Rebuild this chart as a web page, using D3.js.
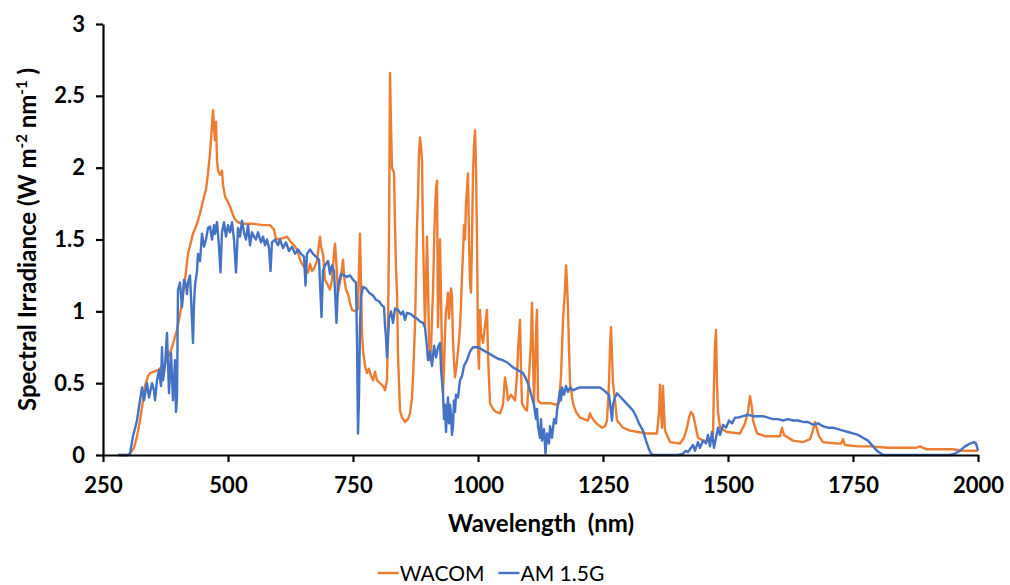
<!DOCTYPE html>
<html>
<head>
<meta charset="utf-8">
<script src="https://cdn.jsdelivr.net/npm/d3@7"></script>
<style>
  html, body { margin: 0; padding: 0; background: #fff; }
  svg { display: block; }
  text { font-family: Lato, "Open Sans", sans-serif; fill: #000; }
</style>
</head>
<body>
<svg id="chart" width="1010" height="585"></svg>
<script>
// ---------------- data ----------------
const xTicks = [250, 500, 750, 1000, 1250, 1500, 1750, 2000];
const yTicks = [0, 0.5, 1, 1.5, 2, 2.5, 3];
const seriesNames = ["WACOM", "AM 1.5G"];
const seriesColors = ["#ED7D31", "#4472C4"];

// WACOM simulator spectrum (wavelength nm, W m-2 nm-1)
const wacomWl = [280,300,304,312,318,324,328,334,340,344,352,360,370,378,388,398,404,408,414,420,430,438,444,450,456,460,464,468,470,472,474,476,478,480,484,488,490,494,500,504,510,514,520,530,550,570,584,592,596,610,618,624,632,638,644,648,654,660,664,668,672,678,682,684,686,690,694,700,704,708,712,714,716,720,724,728,730,732,736,740,744,748,756,760,762,764,766,768,770,774,778,782,786,790,794,798,804,810,814,818,820,822,824,826,828,830,832,834,836,838,840,844,848,854,860,864,868,870,874,878,880,882,884,886,888,890,892,894,896,898,900,902,904,906,908,910,912,914,916,918,920,922,924,926,928,930,932,934,936,938,940,942,944,946,948,950,952,954,958,962,964,966,968,970,972,974,976,978,980,982,984,986,988,990,992,994,996,998,1000,1002,1004,1006,1010,1014,1018,1020,1024,1030,1036,1044,1050,1054,1058,1060,1066,1070,1074,1078,1080,1084,1086,1088,1094,1098,1102,1106,1108,1110,1112,1114,1116,1118,1120,1126,1136,1146,1156,1162,1166,1170,1174,1176,1178,1180,1182,1184,1190,1196,1204,1212,1220,1224,1228,1234,1240,1248,1254,1258,1262,1264,1266,1268,1270,1274,1278,1290,1304,1320,1338,1358,1362,1364,1366,1368,1370,1372,1374,1384,1404,1412,1418,1422,1426,1430,1434,1440,1450,1458,1466,1470,1472,1474,1476,1478,1480,1484,1498,1524,1534,1540,1544,1548,1550,1558,1575,1590,1604,1608,1612,1630,1650,1664,1668,1672,1674,1678,1682,1690,1718,1726,1730,1734,1760,1784,1820,1850,1876,1884,1890,1898,1950,1970,2000];
const wacomVal = [0,0,0.01,0.05,0.13,0.24,0.33,0.48,0.55,0.57,0.58,0.59,0.62,0.66,0.75,0.87,0.98,1.06,1.22,1.40,1.54,1.61,1.68,1.77,1.85,1.96,2.10,2.30,2.40,2.28,2.19,2.32,2.05,1.98,1.95,1.98,1.88,1.80,1.76,1.73,1.67,1.64,1.62,1.61,1.61,1.60,1.60,1.57,1.50,1.51,1.52,1.49,1.46,1.43,1.36,1.33,1.30,1.27,1.33,1.28,1.30,1.35,1.47,1.52,1.45,1.40,1.22,1.18,1.15,1.22,1.40,1.47,1.38,1.13,1.20,1.30,1.36,1.25,1.15,1.12,1.06,1.01,1.00,1.02,1.30,1.54,1.20,0.85,0.73,0.62,0.57,0.60,0.55,0.52,0.58,0.52,0.50,0.48,0.45,0.52,0.90,1.50,2.66,2.30,2.00,1.98,1.97,1.60,1.30,1.13,0.70,0.31,0.26,0.23,0.25,0.29,0.40,0.54,0.90,1.59,1.80,2.10,2.21,2.15,2.05,1.54,1.20,0.89,1.20,1.52,1.20,0.80,0.66,0.75,0.95,1.13,1.45,1.70,1.85,1.91,0.89,1.20,1.50,1.10,0.70,0.43,0.60,0.85,1.00,1.05,1.13,0.95,1.05,1.16,1.10,0.80,0.65,0.54,0.65,0.80,0.89,1.05,1.25,1.40,1.60,1.50,1.75,1.85,1.96,1.50,1.20,1.13,1.50,1.97,2.15,2.26,2.00,1.50,0.75,0.60,1.01,0.85,0.78,0.90,1.01,0.70,0.36,0.32,0.30,0.29,0.35,0.54,0.45,0.38,0.42,0.40,0.38,0.55,0.73,0.94,0.60,0.36,0.32,0.31,0.55,0.80,1.06,0.70,0.36,0.60,0.85,1.01,0.38,0.36,0.36,0.36,0.35,0.36,0.55,0.94,1.15,1.32,1.20,1.01,0.75,0.50,0.36,0.30,0.26,0.25,0.24,0.29,0.26,0.23,0.21,0.19,0.20,0.24,0.50,0.75,0.89,0.70,0.50,0.38,0.24,0.19,0.17,0.16,0.15,0.15,0.30,0.49,0.30,0.19,0.48,0.30,0.17,0.09,0.08,0.12,0.19,0.26,0.30,0.28,0.22,0.12,0.10,0.10,0.11,0.13,0.50,0.75,0.87,0.50,0.30,0.19,0.16,0.15,0.22,0.30,0.41,0.33,0.24,0.15,0.13,0.13,0.13,0.19,0.14,0.10,0.09,0.11,0.15,0.20,0.23,0.18,0.13,0.09,0.08,0.08,0.11,0.07,0.06,0.06,0.05,0.05,0.05,0.06,0.05,0.04,0.04,0.03,0.03];

// AM 1.5G reference spectrum (wavelength nm, W m-2 nm-1)
const amWl = [280,300,304,310,318,324,328,332,338,342,348,352,354,358,362,366,368,370,374,378,382,386,390,394,396,398,400,404,408,412,416,418,420,424,426,430,432,434,438,440,444,448,452,456,460,464,468,472,474,478,482,485,488,492,496,500,504,508,512,516,520,524,528,532,536,540,544,548,552,556,560,566,570,574,578,582,585,588,594,600,604,610,616,622,628,634,640,646,652,655,658,664,670,676,682,687,690,694,700,704,708,712,717,720,726,732,738,744,750,756,758,760,762,764,766,770,776,782,790,796,802,808,812,814,816,818,820,822,826,830,834,840,846,850,854,858,866,872,878,884,890,894,898,900,904,908,912,916,920,924,926,930,932,934,936,938,940,942,944,946,948,950,952,954,956,960,964,968,972,978,984,990,1000,1010,1020,1030,1040,1050,1060,1070,1080,1090,1096,1100,1104,1108,1112,1116,1118,1120,1124,1126,1128,1132,1135,1138,1142,1144,1148,1152,1156,1158,1162,1164,1166,1168,1172,1176,1180,1184,1190,1196,1204,1214,1224,1234,1244,1252,1258,1262,1266,1268,1270,1274,1278,1286,1294,1302,1310,1316,1322,1330,1336,1342,1346,1350,1400,1410,1416,1420,1424,1430,1434,1440,1444,1450,1456,1460,1464,1468,1472,1476,1480,1484,1490,1496,1502,1508,1514,1520,1530,1540,1550,1560,1570,1580,1590,1600,1610,1620,1630,1640,1650,1660,1670,1680,1690,1700,1710,1720,1730,1740,1750,1760,1770,1780,1790,1798,1806,1812,1944,1954,1964,1974,1984,1992,1996,2000];
const amVal = [0,0,0.01,0.13,0.24,0.38,0.47,0.38,0.50,0.40,0.50,0.45,0.38,0.52,0.59,0.48,0.75,0.52,0.62,0.85,0.43,0.71,0.38,0.66,0.30,0.40,1.15,1.20,1.03,1.22,1.18,1.12,1.20,1.25,1.10,0.78,1.05,1.18,1.28,1.40,1.35,1.54,1.45,1.50,1.58,1.59,1.50,1.60,1.54,1.62,1.45,1.27,1.55,1.62,1.52,1.60,1.55,1.62,1.50,1.27,1.58,1.52,1.63,1.55,1.50,1.60,1.46,1.55,1.52,1.50,1.55,1.48,1.52,1.46,1.50,1.44,1.28,1.48,1.50,1.46,1.50,1.44,1.48,1.42,1.45,1.40,1.43,1.40,1.38,1.18,1.40,1.43,1.40,1.38,1.36,0.96,1.28,1.32,1.35,1.26,1.32,1.28,0.92,1.18,1.26,1.25,1.24,1.25,1.22,1.20,0.80,0.15,0.40,0.90,1.10,1.17,1.16,1.13,1.11,1.08,1.07,1.04,1.03,0.90,0.82,0.68,0.80,0.95,1.00,0.92,1.02,1.01,0.98,1.00,0.94,0.99,0.98,0.96,0.95,0.93,0.92,0.89,0.75,0.66,0.72,0.62,0.76,0.68,0.75,0.78,0.60,0.43,0.25,0.35,0.16,0.30,0.40,0.22,0.35,0.28,0.14,0.20,0.38,0.30,0.42,0.40,0.52,0.55,0.62,0.66,0.72,0.75,0.75,0.73,0.71,0.69,0.67,0.66,0.64,0.61,0.59,0.57,0.53,0.50,0.45,0.40,0.35,0.25,0.32,0.20,0.12,0.25,0.10,0.18,0.01,0.15,0.08,0.20,0.12,0.25,0.22,0.31,0.40,0.45,0.38,0.47,0.42,0.48,0.44,0.47,0.45,0.46,0.47,0.47,0.47,0.47,0.47,0.45,0.43,0.42,0.30,0.24,0.35,0.40,0.43,0.40,0.37,0.34,0.31,0.27,0.22,0.17,0.10,0.04,0.01,0,0,0.01,0.03,0.02,0.04,0.07,0.03,0.09,0.05,0.10,0.08,0.14,0.06,0.16,0.05,0.12,0.19,0.14,0.21,0.19,0.24,0.22,0.26,0.26,0.27,0.28,0.27,0.27,0.27,0.26,0.25,0.25,0.24,0.25,0.24,0.24,0.23,0.23,0.21,0.22,0.20,0.19,0.19,0.18,0.17,0.16,0.15,0.14,0.12,0.10,0.06,0.03,0.01,0,0,0.01,0.03,0.06,0.08,0.09,0.08,0.03];

// ---------------- chart ----------------
const svg = d3.select("#chart");
const plot = { left: 103, right: 978, top: 24, bottom: 455 };

const x = d3.scaleLinear().domain([250, 2000]).range([plot.left, plot.right]);
const y = d3.scaleLinear().domain([0, 3]).range([plot.bottom, plot.top]);

const series = [
  { name: seriesNames[0], color: seriesColors[0], pts: wacomWl.map((w, i) => [w, wacomVal[i]]) },
  { name: seriesNames[1], color: seriesColors[1], pts: amWl.map((w, i) => [w, amVal[i]]) }
];

const line = d3.line().x(d => x(d[0])).y(d => y(d[1]));

svg.append("g").selectAll("path")
  .data(series)
  .join("path")
  .attr("fill", "none")
  .attr("stroke", d => d.color)
  .attr("stroke-width", 2.4)
  .attr("stroke-linejoin", "round")
  .attr("d", d => line(d.pts));

// axes
const xAxis = svg.append("g")
  .attr("transform", `translate(0,${plot.bottom})`)
  .call(d3.axisBottom(x).tickValues(xTicks).tickFormat(d3.format("d")).tickSizeInner(7).tickSizeOuter(0).tickPadding(15));
const yAxis = svg.append("g")
  .attr("transform", `translate(${plot.left},0)`)
  .call(d3.axisLeft(y).tickValues(yTicks).tickFormat(d => String(d)).tickSizeInner(7).tickSizeOuter(0).tickPadding(11));

[xAxis, yAxis].forEach(g => {
  g.select(".domain").attr("stroke", "#000").attr("stroke-width", 2.2);
  g.selectAll(".tick line").attr("stroke", "#000").attr("stroke-width", 2.2);
  g.selectAll(".tick text")
    .attr("font-family", "Lato, 'Open Sans', sans-serif")
    .attr("font-size", 22).attr("font-weight", 700).attr("fill", "#000");
});

// axis titles
svg.append("text")
  .attr("x", 541)
  .attr("y", 532)
  .attr("text-anchor", "middle")
  .attr("font-size", 24).attr("font-weight", 700)
  .attr("xml:space", "preserve")
  .text("Wavelength  (nm)");

const yt = svg.append("text")
  .attr("transform", `translate(36,${(plot.top + plot.bottom) / 2}) rotate(-90)`)
  .attr("text-anchor", "middle")
  .attr("font-size", 24).attr("font-weight", 700);
yt.append("tspan").text("Spectral Irradiance (W m");
yt.append("tspan").attr("baseline-shift", "super").attr("font-size", 15).text("-2");
yt.append("tspan").text(" nm");
yt.append("tspan").attr("baseline-shift", "super").attr("font-size", 15).text("-1");
yt.append("tspan").text(" )");

// legend
const legend = svg.append("g");
let lx = 0;
series.forEach((s, i) => {
  const g = legend.append("g").attr("transform", `translate(${lx},0)`);
  g.append("line").attr("x1", 0).attr("x2", 21).attr("y1", 0).attr("y2", 0)
    .attr("stroke", s.color).attr("stroke-width", 2.4);
  const t = g.append("text").attr("x", 22).attr("y", 8)
    .attr("font-size", 21).attr("font-weight", 400).text(s.name);
  lx += 22 + t.node().getComputedTextLength() + 14;
});
const lw = lx - 14;
legend.attr("transform", `translate(${491 - lw / 2},573)`);
</script>
</body>
</html>
